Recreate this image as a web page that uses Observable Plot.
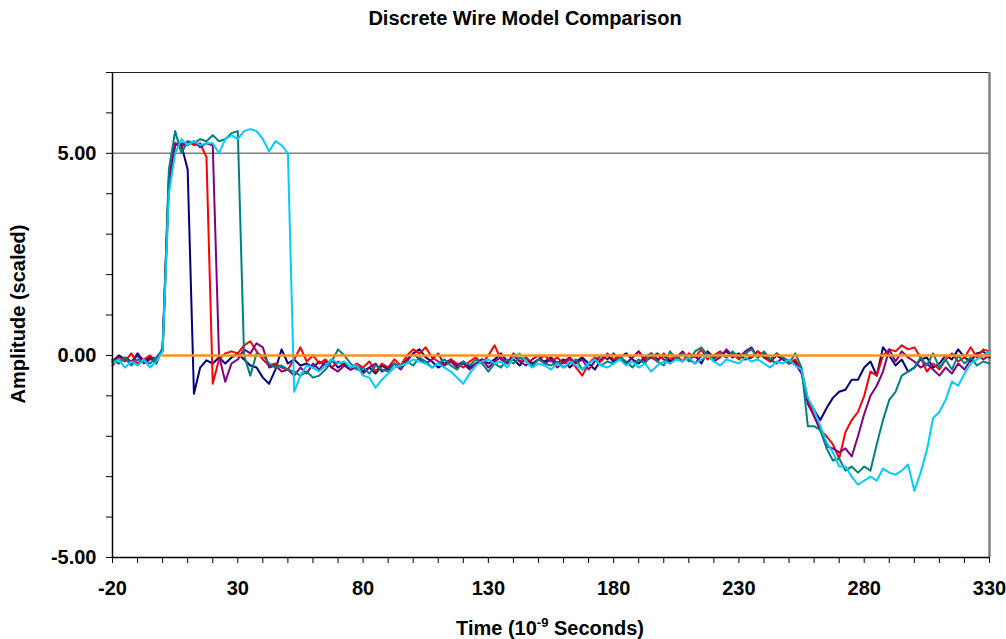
<!DOCTYPE html>
<html><head><meta charset="utf-8">
<script src="https://cdn.jsdelivr.net/npm/d3@7"></script>
<script src="https://cdn.jsdelivr.net/npm/@observablehq/plot@0.6"></script>
<style>
body{margin:0;background:#fff;font-family:"Liberation Sans",Arial,sans-serif;}
#wrap{position:relative;width:1006px;height:639px;overflow:hidden;}
#title{position:absolute;top:7px;left:44px;width:962px;text-align:center;font-weight:bold;font-size:20px;line-height:22px;color:#000;}
</style></head><body>
<div id="wrap"><div id="title">Discrete Wire Model Comparison</div><div id="chart"></div></div>
<script>
const time = [-20,-17.5,-15,-12.5,-10,-7.5,-5,-2.5,0,2.5,
5,7.5,10,12.5,15,17.5,20,22.5,25,27.5,
30,32.5,35,37.5,40,42.5,45,47.5,50,52.5,
55,57.5,60,62.5,65,67.5,70,72.5,75,77.5,
80,82.5,85,87.5,90,92.5,95,97.5,100,102.5,
105,107.5,110,112.5,115,117.5,120,122.5,125,127.5,
130,132.5,135,137.5,140,142.5,145,147.5,150,152.5,
155,157.5,160,162.5,165,167.5,170,172.5,175,177.5,
180,182.5,185,187.5,190,192.5,195,197.5,200,202.5,
205,207.5,210,212.5,215,217.5,220,222.5,225,227.5,
230,232.5,235,237.5,240,242.5,245,247.5,250,252.5,
255,257.5,260,262.5,265,267.5,270,272.5,275,277.5,
280,282.5,285,287.5,290,292.5,295,297.5,300,302.5,
305,307.5,310,312.5,315,317.5,320,322.5,325,327.5,
330];

const navy = [-0.15,0.0,-0.1,-0.2,0.05,-0.15,-0.05,-0.2,0.2,4.4,
5.25,5.2,4.6,-0.95,-0.3,-0.12,-0.2,-0.05,-0.2,-0.05,
0.05,-0.1,-0.25,-0.3,-0.55,-0.7,-0.35,0.15,-0.2,-0.1,
-0.25,-0.2,-0.3,-0.15,-0.25,-0.1,-0.3,-0.2,-0.35,-0.25,
-0.4,-0.3,-0.45,-0.25,-0.35,-0.2,-0.3,-0.1,0.05,0.15,
-0.05,-0.15,-0.3,-0.2,-0.1,-0.25,-0.15,-0.3,-0.2,-0.1,
-0.2,-0.1,0.05,-0.15,-0.1,-0.25,-0.05,-0.2,-0.1,-0.15,
-0.05,-0.2,-0.1,-0.3,-0.15,-0.05,-0.2,-0.35,-0.1,0.0,
-0.15,-0.05,0.05,-0.1,-0.2,-0.05,0.05,-0.1,0.0,-0.15,
-0.05,0.05,-0.1,0.0,-0.2,0.1,-0.05,0.0,0.1,-0.05,
0.05,-0.1,-0.05,0.1,-0.05,-0.15,0.0,-0.1,-0.2,-0.15,
-0.4,-1.1,-1.35,-1.6,-1.3,-1.05,-0.9,-0.85,-0.6,-0.6,
-0.3,-0.15,-0.5,0.2,0.0,-0.25,-0.1,-0.4,-0.3,-0.1,
-0.05,-0.3,-0.2,0.0,-0.1,0.15,-0.05,-0.15,0.05,0.1,
-0.05];

const red = [-0.25,-0.05,-0.15,0.05,-0.2,-0.1,0.0,-0.15,0.15,4.3,
5.25,5.15,5.3,5.2,5.25,4.9,-0.7,-0.1,0.05,0.1,
0.05,0.25,0.35,0.1,-0.1,-0.25,-0.2,-0.3,-0.35,-0.1,
0.2,-0.15,0.0,-0.2,-0.1,-0.3,-0.15,-0.25,-0.35,-0.2,
-0.3,-0.15,-0.4,-0.2,-0.3,-0.1,-0.25,0.0,0.15,0.05,
0.2,-0.05,-0.15,-0.25,-0.1,-0.2,-0.3,-0.15,-0.05,-0.2,
0.0,0.25,-0.1,-0.2,0.05,-0.15,-0.05,-0.25,-0.1,0.0,
-0.15,-0.05,-0.2,-0.1,-0.3,-0.5,-0.2,-0.05,-0.15,0.05,
-0.1,0.0,-0.2,-0.05,0.1,-0.1,-0.05,-0.15,0.05,-0.1,
0.0,-0.15,0.05,-0.05,0.15,-0.1,0.0,0.1,-0.05,0.05,
-0.1,0.05,-0.05,0.1,0.0,-0.15,0.05,-0.05,-0.2,-0.1,
-0.35,-1.1,-1.5,-1.85,-2.0,-2.2,-2.55,-1.9,-1.6,-1.4,
-1.0,-0.4,-0.5,0.0,0.15,0.1,0.25,0.15,0.2,-0.05,
-0.4,-0.2,-0.35,-0.1,0.05,-0.15,-0.05,0.2,-0.05,0.15,
0.1];

const purple = [-0.1,-0.2,-0.05,-0.15,0.0,-0.2,-0.1,-0.05,0.1,4.2,
5.2,5.25,5.2,5.3,5.15,5.25,5.2,0.0,-0.65,-0.2,
-0.1,0.15,0.05,0.3,0.2,-0.3,-0.25,-0.4,-0.35,-0.5,
-0.3,-0.45,-0.2,-0.35,-0.15,-0.3,-0.4,-0.25,-0.35,-0.3,
-0.45,-0.3,-0.2,-0.4,-0.3,-0.2,-0.35,-0.15,0.05,-0.1,
-0.2,-0.1,0.05,-0.25,-0.15,-0.3,-0.2,-0.35,-0.2,-0.1,
-0.3,-0.15,-0.05,-0.2,0.0,-0.15,-0.25,-0.1,0.0,-0.2,
-0.1,-0.3,-0.15,-0.05,-0.2,-0.1,-0.35,-0.15,0.0,-0.1,
0.05,-0.1,-0.2,-0.05,0.1,-0.15,-0.05,0.05,-0.1,-0.2,
-0.05,0.1,-0.1,-0.2,0.0,0.05,-0.15,-0.05,0.15,0.0,
-0.05,0.1,0.2,-0.05,0.05,-0.1,-0.2,-0.05,-0.15,-0.2,
-0.45,-1.2,-1.5,-1.85,-2.25,-2.3,-2.4,-2.3,-2.5,-2.0,
-1.45,-1.0,-0.75,-0.4,0.15,-0.15,0.1,-0.05,-0.15,-0.3,
-0.2,-0.35,-0.5,-0.3,-0.45,-0.2,-0.35,-0.1,0.05,-0.1,
0.0];

const teal = [-0.1,-0.2,-0.05,-0.25,-0.1,-0.15,-0.2,-0.05,0.15,4.6,
5.55,5.0,5.3,5.25,5.35,5.3,5.45,5.3,5.35,5.5,
5.55,0.0,-0.5,0.05,0.0,-0.2,-0.3,-0.25,-0.35,-0.4,
-0.5,-0.4,-0.55,-0.5,-0.35,-0.15,0.15,0.0,-0.2,-0.35,
-0.3,-0.45,-0.25,-0.35,-0.4,-0.2,-0.3,-0.15,-0.25,-0.05,
-0.15,-0.3,-0.2,-0.1,-0.25,-0.35,-0.15,-0.25,-0.1,-0.2,
-0.4,-0.2,-0.3,-0.1,-0.2,-0.05,-0.15,-0.25,-0.1,-0.2,
-0.25,-0.15,-0.3,-0.2,-0.1,-0.35,-0.2,-0.1,-0.25,-0.15,
-0.2,-0.05,-0.15,-0.3,-0.1,-0.2,0.05,-0.15,-0.25,0.1,
-0.1,0.05,-0.15,0.1,0.2,0.0,-0.1,0.05,-0.05,0.1,
-0.05,0.05,0.15,-0.05,0.1,-0.1,0.05,-0.05,-0.2,0.05,
-0.3,-1.75,-1.75,-1.85,-2.3,-2.6,-2.55,-2.85,-2.75,-2.9,
-2.75,-2.85,-2.2,-1.6,-1.1,-0.9,-0.5,-0.4,-0.3,-0.05,
-0.25,0.05,-0.3,-0.1,-0.35,0.0,-0.2,-0.05,-0.25,-0.15,
-0.2];

const cyan = [-0.2,-0.1,-0.3,-0.15,-0.25,-0.1,-0.3,-0.15,0.1,4.0,
5.0,5.35,5.2,5.3,5.2,5.25,5.25,5.0,5.35,5.45,
5.35,5.55,5.6,5.55,5.35,5.05,5.3,5.2,5.0,-0.9,
-0.5,-0.25,-0.3,-0.4,-0.25,-0.1,-0.2,-0.15,-0.3,-0.25,
-0.5,-0.55,-0.8,-0.6,-0.45,-0.3,-0.25,-0.2,-0.1,-0.15,
-0.2,-0.3,-0.2,-0.3,-0.4,-0.55,-0.7,-0.45,-0.25,-0.15,
-0.1,-0.2,-0.15,-0.3,-0.05,0.05,-0.15,-0.3,-0.2,-0.25,
-0.35,-0.2,-0.3,-0.15,-0.25,-0.35,-0.2,-0.1,-0.25,-0.3,
-0.2,-0.1,-0.25,-0.15,-0.3,-0.2,-0.4,-0.25,-0.15,-0.2,
-0.1,-0.15,-0.05,-0.2,-0.1,0.0,-0.15,-0.25,-0.1,-0.15,
-0.2,-0.05,-0.15,-0.1,-0.2,-0.3,-0.15,-0.2,-0.1,-0.25,
-0.35,-1.05,-1.35,-1.75,-2.15,-2.4,-2.75,-2.75,-3.0,-3.2,
-3.1,-3.0,-3.1,-2.8,-2.9,-2.95,-2.85,-2.7,-3.35,-2.9,
-2.35,-1.55,-1.4,-1.1,-0.65,-0.75,-0.45,-0.2,-0.1,0.0,
0.1];

const orangeTime = [0, 330];
const orangeValue = [0, 0];

const seriesNames = ["navy", "red", "purple", "teal", "cyan"];
const seriesValues = [navy, red, purple, teal, cyan];
const seriesColors = ["#000080", "#FF0000", "#800080", "#008080", "#00CCFF"];
const orangeColor = "#F39420";

const xLabelTicks = [-20, 30, 80, 130, 180, 230, 280, 330];
const xMinorTicks = [-10, 0, 10, 20, 40, 50, 60, 70, 90, 100, 110, 120, 140, 150, 160, 170, 190, 200, 210, 220, 240, 250, 260, 270, 290, 300, 310, 320];
const yLabelTicks = [-5, 0, 5];
const yMinorTicks = [-4, -3, -2, -1, 1, 2, 3, 4, 6, 7];

const lineMarks = seriesValues.map((vals, k) =>
  Plot.line(time.map((t, i) => ({t, v: vals[i]})), {x: "t", y: "v", stroke: seriesColors[k], strokeWidth: 2})
);

const plot = Plot.plot({
  width: 1006, height: 639,
  marginTop: 72, marginBottom: 82, marginLeft: 112, marginRight: 17,
  x: {domain: [-20, 330]},
  y: {domain: [-5, 7]},
  style: {fontFamily: "'Liberation Sans', Arial, sans-serif", fontSize: "20px", fontWeight: "bold", background: "white", color: "black", overflow: "visible"},
  marks: [
    Plot.ruleY([5], {stroke: "#808080", strokeWidth: 1.5}),
    Plot.ruleY([7], {stroke: "#222", strokeWidth: 1}),
    Plot.ruleX([330], {stroke: "#808080", strokeWidth: 2.5}),
    ...lineMarks,
    Plot.line(orangeTime.map((t, i) => ({t, v: orangeValue[i]})), {x: "t", y: "v", stroke: orangeColor, strokeWidth: 2.5}),
    Plot.ruleX([-20], {stroke: "black", strokeWidth: 1.5}),
    Plot.ruleY([-5], {stroke: "black", strokeWidth: 1.5}),
    Plot.axisY({ticks: yLabelTicks, tickSize: 6, tickPadding: 10, tickFormat: d => d.toFixed(2), label: null, fontSize: 20, fontWeight: "bold"}),
    Plot.axisY({ticks: yMinorTicks, tickSize: 6, tickFormat: () => "", label: null}),
    Plot.axisX({ticks: xLabelTicks, tickSize: 6, tickPadding: 17, tickFormat: d => String(d), label: null, fontSize: 20, fontWeight: "bold"}),
    Plot.axisX({ticks: xMinorTicks, tickSize: 6, tickFormat: () => "", label: null})
  ]
});
document.getElementById("chart").appendChild(plot);

const svg = d3.select(plot);
svg.append("text")
  .attr("transform", "translate(18,314) rotate(-90)")
  .attr("text-anchor", "middle").attr("dy", "0.35em")
  .attr("font-size", 20).attr("font-weight", "bold").attr("fill", "black")
  .text("Amplitude (scaled)");
const xl = svg.append("text")
  .attr("x", 550).attr("y", 635)
  .attr("text-anchor", "middle")
  .attr("font-size", 20).attr("font-weight", "bold").attr("fill", "black");
xl.append("tspan").text("Time (10");
xl.append("tspan").attr("dy", -8).attr("font-size", 13).text("-9");
xl.append("tspan").attr("dy", 8).text(" Seconds)");
</script>
</body></html>
